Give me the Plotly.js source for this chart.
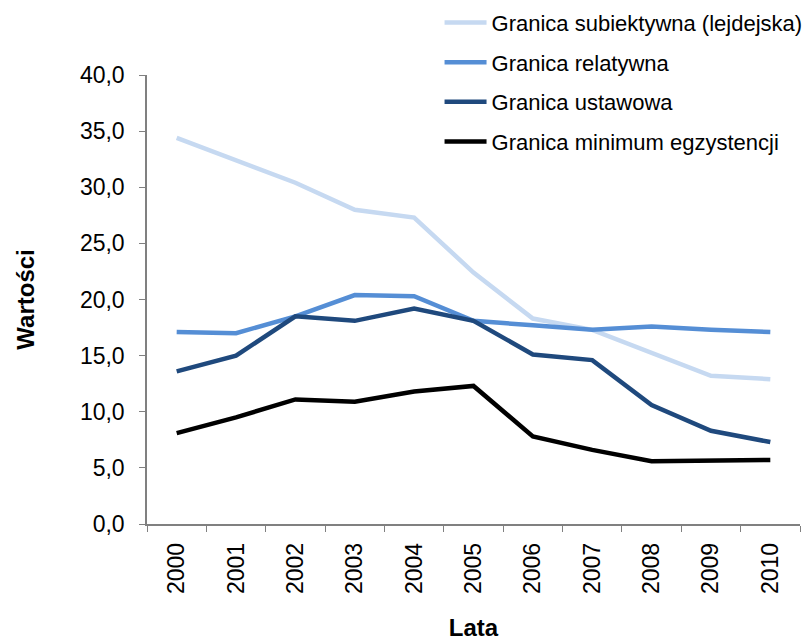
<!DOCTYPE html>
<html>
<head>
<meta charset="utf-8">
<script src="https://cdn.plot.ly/plotly-3.0.1.min.js"></script>
<style>html,body{margin:0;padding:0;background:#fff;}#chart{width:810px;height:642px;}</style>
</head>
<body>
<div id="chart"></div>
<script>
const years = ["2000","2001","2002","2003","2004","2005","2006","2007","2008","2009","2010"];
const subiektywna = [34.4, 32.4, 30.4, 28.0, 27.3, 22.4, 18.3, 17.3, 15.2, 13.2, 12.9];
const relatywna = [17.1, 17.0, 18.5, 20.4, 20.3, 18.1, 17.7, 17.3, 17.6, 17.3, 17.1];
const ustawowa = [13.6, 15.0, 18.5, 18.1, 19.2, 18.1, 15.1, 14.6, 10.6, 8.3, 7.3];
const minimum = [8.1, 9.5, 11.1, 10.9, 11.8, 12.3, 7.8, 6.6, 5.6, 5.7, 5.7];
const seriesNames = ["Granica subiektywna (lejdejska)", "Granica relatywna", "Granica ustawowa", "Granica minimum egzystencji"];
const yTickVals = [0,5,10,15,20,25,30,35,40];
const yTickText = ["0,0","5,0","10,0","15,0","20,0","25,0","30,0","35,0","40,0"];

const colors = ["#c6d9f1", "#558ed5", "#1f497d", "#000000"];
const allSeries = [subiektywna, relatywna, ustawowa, minimum];
const traces = allSeries.map((vals, i) => ({
  type: "scatter",
  mode: "lines",
  x: years,
  y: vals,
  name: seriesNames[i],
  legendgroup: "g" + i,
  line: {color: colors[i], width: 4.5}
}));

const layout = {
  width: 810,
  height: 642,
  margin: {l: 147, r: 10, t: 75, b: 118, autoexpand: false},
  paper_bgcolor: "#ffffff",
  plot_bgcolor: "#ffffff",
  font: {family: "Liberation Sans, Arial, sans-serif", color: "#000000", size: 22},
  showlegend: true,
  legend: {
    x: 0.448, y: 1.163, xanchor: "left", yanchor: "top",
    font: {size: 22, family: "Liberation Sans, Arial, sans-serif"},
    traceorder: "grouped",
    tracegroupgap: 8,
    itemwidth: 42,
    bgcolor: "rgba(255,255,255,0)"
  },
  xaxis: {
    type: "category",
    range: [-0.5, 10.5],
    tickangle: -90,
    ticks: "outside",
    tickson: "boundaries",
    ticklen: 6,
    tickcolor: "#808080",
    showline: true,
    linecolor: "#808080",
    linewidth: 1.5,
    showgrid: false,
    zeroline: false,
    tickfont: {size: 23},
    ticklabelstandoff: 8,
    title: {text: "<b>Lata</b>", font: {size: 24}, standoff: 26}
  },
  yaxis: {
    range: [0, 40],
    tickvals: yTickVals,
    ticktext: yTickText,
    ticks: "outside",
    ticklen: 6,
    tickcolor: "#808080",
    showline: true,
    linecolor: "#808080",
    linewidth: 1.5,
    showgrid: false,
    zeroline: false,
    tickfont: {size: 23},
    ticklabelstandoff: 10,
    title: {text: "<b>Wartości</b>", font: {size: 24}, standoff: 38}
  }
};

Plotly.newPlot("chart", traces, layout, {displayModeBar: false});
</script>
</body>
</html>
